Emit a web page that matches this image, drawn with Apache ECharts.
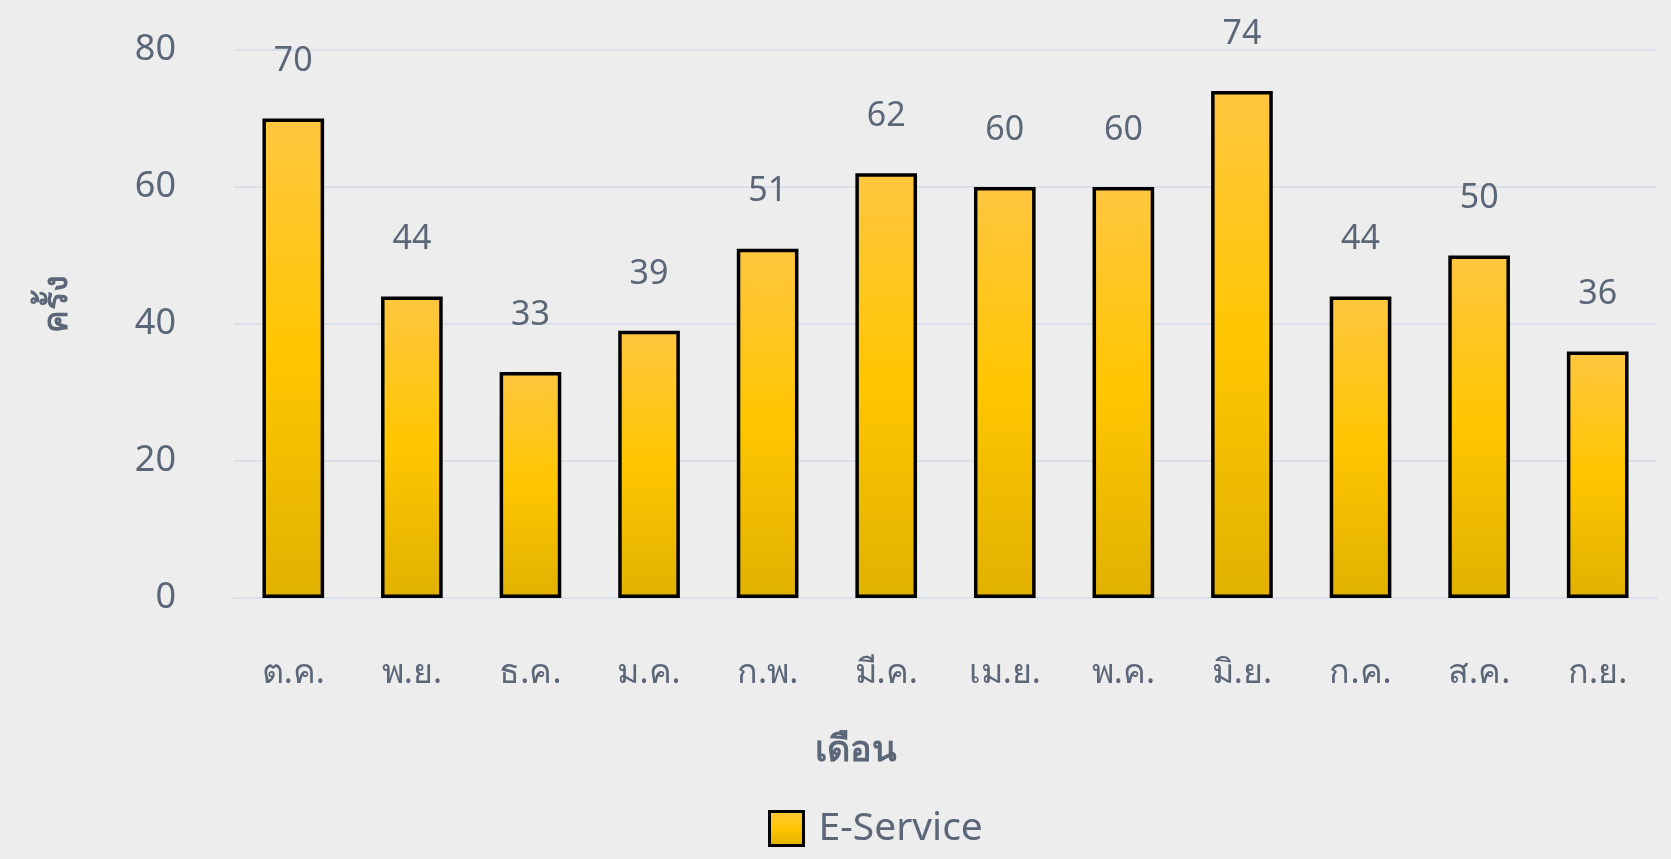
<!DOCTYPE html>
<html>
<head>
<meta charset="utf-8">
<style>
  html, body { margin: 0; padding: 0; background: #ededed; }
  #chart { width: 1671px; height: 859px; }
</style>
<script src="https://cdn.jsdelivr.net/npm/echarts@6/dist/echarts.min.js"></script>
</head>
<body>
<div id="chart"></div>
<script>
// data
const months = ['ต.ค.', 'พ.ย.', 'ธ.ค.', 'ม.ค.', 'ก.พ.', 'มี.ค.', 'เม.ย.', 'พ.ค.', 'มิ.ย.', 'ก.ค.', 'ส.ค.', 'ก.ย.']
const eService = [70, 44, 33, 39, 51, 62, 60, 60, 74, 44, 50, 36]
const seriesName = 'E-Service'

const textColor = '#5b6779'
const font = '"Noto Sans", "DejaVu Sans", sans-serif'

const barFill = new echarts.graphic.LinearGradient(0, 0, 0, 1, [
  { offset: 0, color: '#ffc640' },
  { offset: 0.5, color: '#ffc600' },
  { offset: 1, color: '#e0b100' }
])

const chart = echarts.init(document.getElementById('chart'))
chart.setOption({
  backgroundColor: '#ededed',
  textStyle: { fontFamily: font },
  grid: { left: 234, right: 14, top: 50, bottom: 261 },
  legend: {
    bottom: 11,
    left: 768,
    padding: 0,
    icon: 'rect',
    itemWidth: 34,
    itemHeight: 34,
    itemGap: 16,
    textStyle: { color: textColor, fontSize: 39, fontFamily: font, padding: [0, 0, 0, 10] },
    itemStyle: { borderColor: '#000', borderWidth: 3 },
    data: [seriesName]
  },
  xAxis: {
    type: 'category',
    data: months,
    name: 'เดือน',
    nameLocation: 'middle',
    nameGap: 135,
    nameTextStyle: { color: textColor, fontSize: 36, fontWeight: 'bold', fontFamily: font, padding: [0, 180, 0, 0] },
    axisLine: { lineStyle: { color: '#d9e0ea', width: 2 } },
    axisTick: { show: false },
    axisLabel: { color: textColor, fontSize: 34, margin: 58, fontFamily: font }
  },
  yAxis: {
    type: 'value',
    min: 0,
    max: 80,
    interval: 20,
    name: 'ครั้ง',
    nameLocation: 'middle',
    nameGap: 160,
    nameTextStyle: { color: textColor, fontSize: 34, fontWeight: 'bold', fontFamily: font, padding: [0, 0, 0, 40] },
    axisLine: { show: false },
    axisTick: { show: false },
    splitLine: { lineStyle: { color: '#d9e0ea', width: 2 } },
    axisLabel: { color: textColor, fontSize: 36, margin: 58, fontFamily: font }
  },
  series: [{
    name: seriesName,
    type: 'bar',
    data: eService,
    barWidth: '52%',
    itemStyle: { color: barFill, borderColor: '#000', borderWidth: 3.5 },
    label: {
      show: true,
      position: 'top',
      distance: 40,
      color: textColor,
      fontSize: 34,
      fontFamily: font
    }
  }]
})
</script>
</body>
</html>
